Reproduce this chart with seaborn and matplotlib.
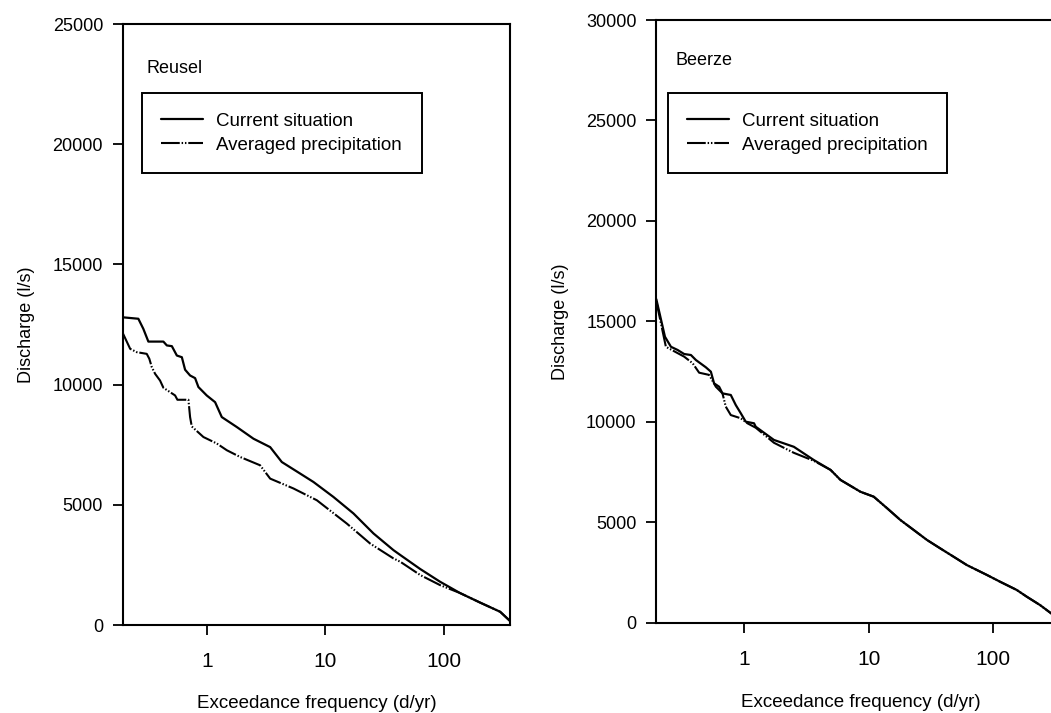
import numpy as np
import pandas as pd
import matplotlib
matplotlib.use("Agg")
import matplotlib.pyplot as plt
import seaborn as sns
from matplotlib.ticker import FixedLocator, NullLocator, FixedFormatter

# ---------------- data ----------------
series_labels = ["Current situation", "Averaged precipitation"]
panel_titles = ["Reusel", "Beerze"]
x_ticks = [1, 10, 100]
x_tick_labels = ["1", "10", "100"]
y_ticks_reusel = [0, 5000, 10000, 15000, 20000, 25000]
y_ticks_beerze = [0, 5000, 10000, 15000, 20000, 25000, 30000]

reusel_cur_x = [0.196, 0.265, 0.292, 0.322, 0.431, 0.461, 0.508, 0.56, 0.617, 0.657,
                0.724, 0.798, 0.851, 1.0, 1.177, 1.34, 1.795, 2.48, 3.43, 4.30,
                6.14, 7.95, 11.7, 17.3, 25.5, 37.6, 43.0, 63.2, 93.0, 137.0,
                203.0, 299.0, 365.0]
reusel_cur_y = [12800, 12740, 12320, 11790, 11790, 11630, 11600, 11210, 11140, 10620,
                10380, 10270, 9900, 9550, 9270, 8650, 8235, 7750, 7400, 6780,
                6300, 5950, 5330, 4640, 3810, 3115, 2910, 2330, 1800, 1330,
                930, 550, 150]

reusel_avg_x = [0.196, 0.226, 0.257, 0.312, 0.328, 0.344, 0.367, 0.404, 0.431, 0.541,
                0.566, 0.701, 0.724, 0.748, 0.938, 1.217, 1.478, 1.914, 2.82, 3.43,
                5.39, 8.49, 15.2, 23.9, 37.6, 43.0, 63.2, 93.0, 137.0, 203.0,
                299.0, 365.0]
reusel_avg_y = [12140, 11490, 11350, 11280, 11075, 10730, 10450, 10170, 9870, 9550,
                9370, 9370, 8650, 8260, 7820, 7550, 7270, 6990, 6645, 6090,
                5680, 5190, 4220, 3390, 2770, 2630, 2080, 1660, 1330, 930,
                550, 150]

beerze_cur_x = [0.196, 0.23, 0.257, 0.291, 0.328, 0.372, 0.408, 0.49, 0.538, 0.571,
                0.627, 0.667, 0.778, 0.853, 0.936, 1.026, 1.196, 1.234, 1.73, 2.50,
                3.62, 4.93, 5.93, 8.58, 10.97, 14.05, 17.96, 22.96, 29.4, 37.6,
                48.0, 61.5, 89.0, 113.8, 154.9, 186.4, 238.2, 292.0, 365.0]
beerze_cur_y = [16100, 14230, 13730, 13570, 13370, 13320, 13070, 12710, 12490, 11910,
                11740, 11410, 11330, 10830, 10420, 10000, 9920, 9750, 9090, 8750,
                8090, 7600, 7100, 6510, 6265, 5690, 5105, 4610, 4110, 3690,
                3280, 2860, 2370, 2030, 1620, 1285, 870, 460, 60]

beerze_avg_x = [0.196, 0.234, 0.328, 0.384, 0.433, 0.521, 0.59, 0.667, 0.709, 0.778,
                0.936, 1.059, 1.234, 1.73, 2.50, 3.62, 4.93, 5.93, 8.58, 10.97,
                14.05, 17.96, 22.96, 29.4, 37.6, 48.0, 61.5, 89.0, 113.8, 154.9,
                186.4, 238.2, 292.0, 365.0]
beerze_avg_y = [16000, 13730, 13240, 12910, 12440, 12330, 11740, 11410, 10750, 10330,
                10170, 9920, 9700, 8950, 8450, 8050, 7600, 7100, 6510, 6265,
                5690, 5105, 4610, 4110, 3690, 3280, 2860, 2370, 2030, 1620,
                1285, 870, 460, 60]

# ---------------- style ----------------
sns.set_theme(style="ticks")
plt.rcParams["font.family"] = ["Liberation Sans", "DejaVu Sans"]
plt.rcParams["axes.edgecolor"] = "black"
plt.rcParams["xtick.color"] = "black"
plt.rcParams["ytick.color"] = "black"
plt.rcParams["text.color"] = "black"
plt.rcParams["axes.labelcolor"] = "black"

fig = plt.figure(figsize=(10.51, 7.13), dpi=100)
ax1 = fig.add_axes([0.1166, 0.1234, 0.3691, 0.8429])
ax2 = fig.add_axes([0.6242, 0.1269, 0.3873, 0.8450])

avg_style = (0, (9, 0.9, 0.7, 0.9, 0.7, 0.9))

panels = [
    (ax1, reusel_cur_x, reusel_cur_y, reusel_avg_x, reusel_avg_y, 25000, y_ticks_reusel,
     panel_titles[0], (0.063, 0.9268), (0.0503, 0.8847, 0.7216)),
    (ax2, beerze_cur_x, beerze_cur_y, beerze_avg_x, beerze_avg_y, 30000, y_ticks_beerze,
     panel_titles[1], (0.0466, 0.9336), (0.0294, 0.8783, 0.686)),
]

for ax, cx, cy, axx, ay, ymax, yt, title, tpos, lpos in panels:
    df_cur = pd.DataFrame({"x": cx, "y": cy})
    df_avg = pd.DataFrame({"x": axx, "y": ay})
    sns.lineplot(data=df_cur, x="x", y="y", ax=ax, color="black", lw=1.6,
                 estimator=None, sort=False, label=series_labels[0])
    sns.lineplot(data=df_avg, x="x", y="y", ax=ax, color="black", lw=1.5,
                 estimator=None, sort=False, label=series_labels[1],
                 linestyle=avg_style)
    ax.set_xscale("log")
    ax.set_xlim(0.195, 365)
    ax.set_ylim(0, ymax)
    ax.xaxis.set_major_locator(FixedLocator(x_ticks))
    ax.xaxis.set_major_formatter(FixedFormatter(x_tick_labels))
    ax.xaxis.set_minor_locator(NullLocator())
    ax.yaxis.set_major_locator(FixedLocator(yt))
    ax.yaxis.set_minor_locator(NullLocator())
    ax.tick_params(axis="y", direction="out", length=7, width=1.3, labelsize=13, pad=7)
    ax.tick_params(axis="x", direction="out", length=7.5, width=1.3, labelsize=15, pad=12)
    for s in ax.spines.values():
        s.set_linewidth(1.5)
        s.set_color("black")
    ax.set_xlabel("Exceedance frequency (d/yr)", fontsize=13.5)
    ax.set_ylabel("Discharge (l/s)", fontsize=13)
    ax.xaxis.label.set_va("center")
    ax.yaxis.label.set_va("center")
    ax.text(tpos[0], tpos[1], title, transform=ax.transAxes, ha="left", va="center",
            fontsize=13)
    handles = ax.get_lines()[:2]
    leg = ax.legend(handles=handles, labels=series_labels, loc="upper left",
                    bbox_to_anchor=(lpos[0], 0, lpos[2], lpos[1]), mode="expand",
                    borderaxespad=0, fontsize=13.5, frameon=True, fancybox=False,
                    framealpha=1, edgecolor="black", borderpad=1.03,
                    labelspacing=0.37, handlelength=2.2, handletextpad=0.7)
    leg.get_frame().set_linewidth(1.4)

ax1.xaxis.set_label_coords(0.501, -0.1298)
ax1.yaxis.set_label_coords(-0.2487, 0.5)
ax2.xaxis.set_label_coords(0.5025, -0.132)
ax2.yaxis.set_label_coords((560 - 656) / 408, 0.5)

fig.savefig("out.png", dpi=100)
